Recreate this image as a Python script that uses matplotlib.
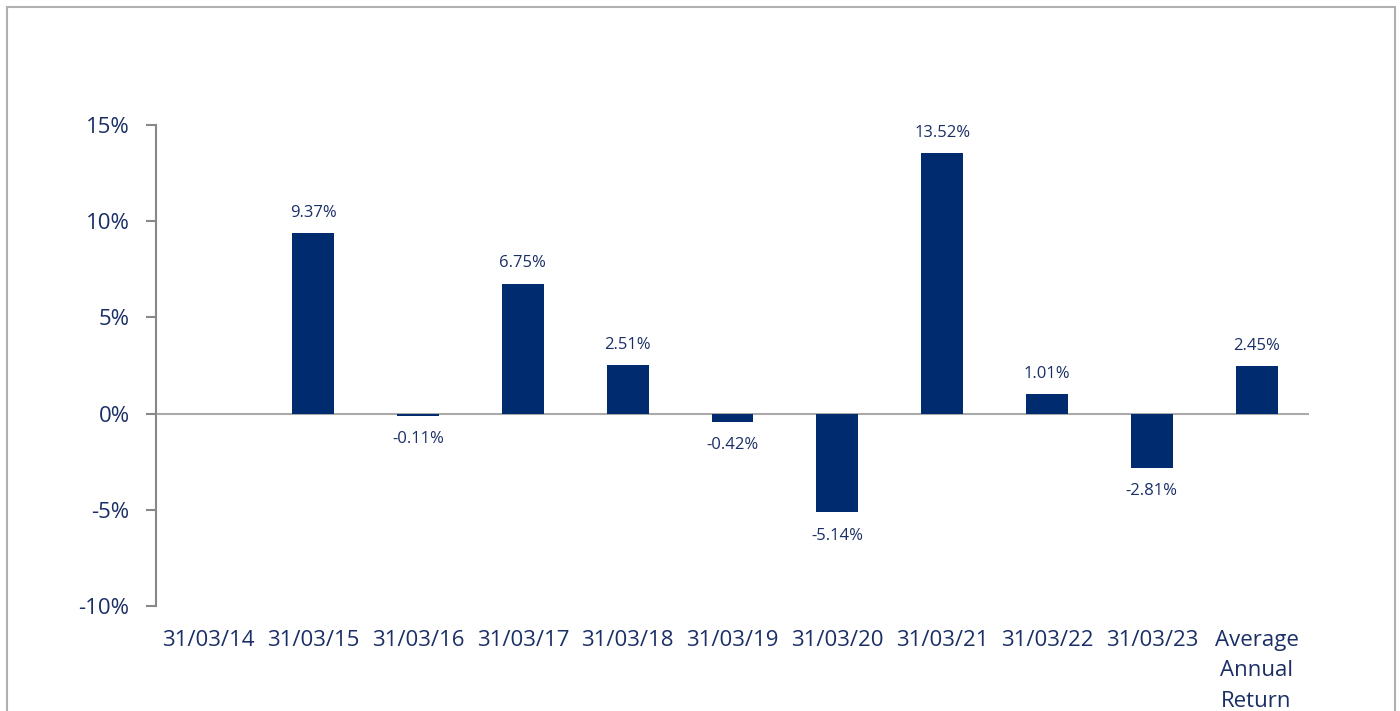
import numpy as np
import matplotlib.pyplot as plt
from matplotlib.patches import Rectangle

plt.rcParams['font.family'] = ['Open Sans', 'DejaVu Sans']

categories = ['31/03/14', '31/03/15', '31/03/16', '31/03/17', '31/03/18', '31/03/19',
              '31/03/20', '31/03/21', '31/03/22', '31/03/23', 'Average\nAnnual\nReturn']
returns = [np.nan, 9.37, -0.11, 6.75, 2.51, -0.42, -5.14, 13.52, 1.01, -2.81, 2.45]
yticks = [-10, -5, 0, 5, 10, 15]

navy = '#002b6f'
txt = '#1b2f66'

fig = plt.figure(figsize=(14, 7.11), dpi=100)
ax = fig.add_axes([0.1114, 0.1477, 0.8236, 0.6765])

x = np.arange(len(categories))
ax.bar(x, returns, width=0.4, color=navy, zorder=3)

for xi, v in zip(x, returns):
    if np.isnan(v):
        continue
    if v >= 0:
        ax.annotate(f'{v:.2f}%', (xi, v), xytext=(0, 9), textcoords='offset points',
                    ha='center', va='bottom', fontsize=12, color=txt)
    else:
        ax.annotate(f'{v:.2f}%', (xi, v), xytext=(0, -11), textcoords='offset points',
                    ha='center', va='top', fontsize=12, color=txt)

ax.set_xlim(-0.5, len(categories) - 0.5)
ax.set_ylim(-10, 15)
ax.set_yticks(yticks)
ax.set_yticklabels([f'{t}%' for t in yticks])
ax.set_xticks(x)
ax.set_xticklabels(categories, linespacing=1.6)
ax.tick_params(axis='y', colors='#888888', labelcolor=txt, labelsize=16, length=7, width=1.5, pad=12)
ax.tick_params(axis='x', length=0, labelcolor=txt, labelsize=16, pad=17)

for s in ['top', 'right', 'bottom']:
    ax.spines[s].set_visible(False)
ax.spines['left'].set_color('#888888')
ax.spines['left'].set_linewidth(1.5)
ax.axhline(0, color='#aaaaaa', lw=1.5, zorder=2)

# outer frame
fig.patches.append(Rectangle((7 / 1400, -0.02), (1395 - 7) / 1400, 1.02 - 7 / 711,
                             transform=fig.transFigure, fill=False,
                             edgecolor='#b0b0b0', lw=1.5))

fig.savefig('out.png', dpi=100)
